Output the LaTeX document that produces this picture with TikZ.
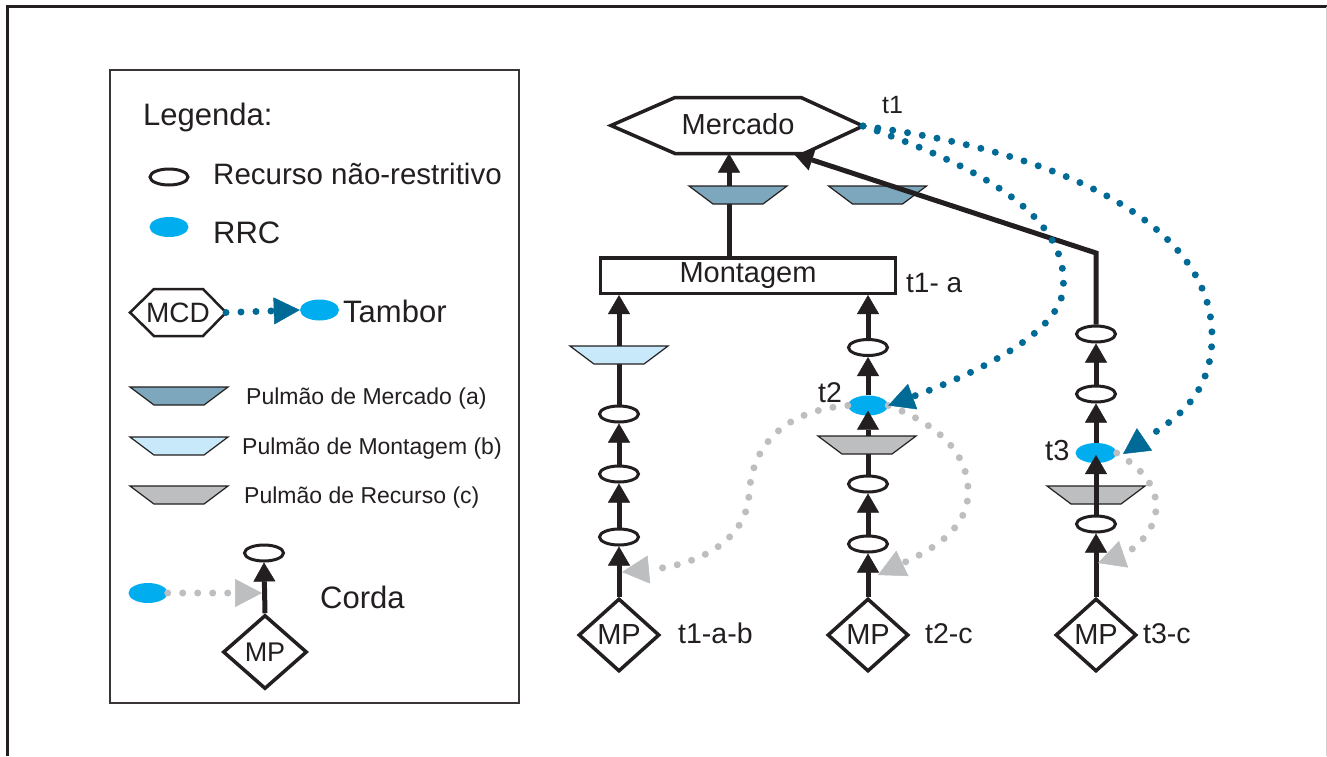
\documentclass[tikz,border=0pt]{standalone}
\usepackage{fontspec}
\setmainfont{Liberation Sans}
\usetikzlibrary{shapes.geometric,arrows.meta}
\newcommand\myfs[1]{\fontsize{#1}{#1}\selectfont}
\definecolor{ink}{HTML}{231F20}
\definecolor{tealC}{HTML}{006A96}
\definecolor{cyanC}{HTML}{00AEEF}
\definecolor{grayC}{HTML}{BCBEC0}
\definecolor{mktC}{HTML}{7DA7BC}
\definecolor{monC}{HTML}{C7E9F9}
\tikzset{pics/buffer/.style={code={\draw[line width=1.2pt, draw=ink, fill=#1] (-49,-9) -- (49,-9) -- (25,9) -- (-25,9) -- cycle;}}}
\begin{document}
\begin{tikzpicture}[x=1pt,y=-1pt,
  blk/.style={draw=ink, line width=5pt, -{Triangle[length=19pt,width=22pt,line width=0.5pt]}},
  tealdot/.style={draw=tealC, line width=7pt, line cap=round, dash pattern=on 0pt off 15pt, -{Triangle[length=26pt,width=27pt,line width=0.5pt]}},
  graydot/.style={draw=grayC, line width=7pt, line cap=round, dash pattern=on 0pt off 15pt, -{Triangle[length=27pt,width=28pt,line width=0.5pt]}},
  nr/.style={ellipse, draw=ink, line width=3pt, fill=white, minimum width=39pt, minimum height=16pt, inner sep=0pt},
  rrc/.style={ellipse, fill=cyanC, minimum width=40pt, minimum height=20pt, inner sep=0pt},
  mp/.style={diamond, draw=ink, line width=3.5pt, fill=white, minimum width=81pt, minimum height=73pt, inner sep=0pt, font=\myfs{29}, text=ink},
  txt/.style={anchor=base west, inner sep=0pt, text=ink},
  hexline/.style={draw=ink, line width=3.5pt, line join=miter},
]
\useasboundingbox (0,0) rectangle (1327,756);
\fill[white] (0,0) rectangle (1327,756);
% outer frame
\draw[ink, line width=3pt] (7.5,756) -- (7.5,6.5) -- (1327,6.5);
\draw[gray!35, line width=1pt] (1326,6.5) -- (1326,756);
% legend box
\draw[ink!90, line width=2pt] (110,70) rectangle (519,703);

% ---------- legend ----------
\node[txt, font=\myfs{31}] (legT) at (143,125) {Legenda:};
\node[nr, minimum width=38pt] (LnrE) at (169,177) {};
\node[txt, font=\myfs{29.5}] (LnrT) at (213,184) {Recurso não-restritivo};
\node[rrc, minimum width=39pt] (LrrcE) at (169,227) {};
\node[txt, font=\myfs{31}] (LrrcT) at (213,243) {RRC};
\draw[ink, line width=2.5pt] (130,312.5) -- (154,289) -- (203,289) -- (226,312.5) -- (203,336) -- (154,336) -- cycle;
\node[inner sep=0pt, anchor=base, font=\myfs{28}, text=ink] (mcd) at (178,322) {MCD};
\coordinate (mcdR) at (226,312.5);
\node[rrc, minimum width=39pt, minimum height=21pt] (Tam) at (319.5,310) {};
\node[txt, font=\myfs{31}] (TamT) at (343,322) {Tambor};
\pic at (179,396) {buffer=mktC};
\node[txt, font=\myfs{23}] (LbA) at (246,404) {Pulmão de Mercado (a)};
\pic at (179,446) {buffer=monC};
\node[txt, font=\myfs{23}] (LbB) at (242,454) {Pulmão de Montagem (b)};
\pic at (179,495) {buffer=grayC};
\node[txt, font=\myfs{23}] (LbC) at (244,503) {Pulmão de Recurso (c)};
\node[rrc, minimum width=39pt] (Lc) at (148,593) {};
\node[nr, minimum width=39pt] (LE) at (264,553) {};
\node[mp, minimum width=84pt, minimum height=74pt, font=\myfs{27}] (LD) at (265,652) {MP};
\coordinate (Lcd) at (262,593);
\node[txt, font=\myfs{31}] (CordT) at (320,608) {Corda};
\draw[tealdot] (mcdR) -- (Tam.west);
\draw[graydot] (Lc.east) -- (Lcd);
\draw[blk] (LD.north) -- (LE.south);

% ---------- main diagram nodes ----------
\draw[hexline] (611,125.5) -- (675,97.5) -- (801,97.5) -- (863,126) -- (804,153.5) -- (675,153.5) -- cycle;
\node[inner sep=0pt, anchor=base, font=\myfs{29}, text=ink] (merc) at (738,134) {Mercado};
\coordinate (mr) at (863,126);
\coordinate (mkin) at (729,153.5);
\coordinate (mk2) at (794,154);
\coordinate (bend) at (1096,253);
\node[txt, font=\myfs{25}] (t1) at (882,113) {t1};

\node[draw=ink, line width=3.5pt, fill=white, minimum width=295pt, minimum height=35.5pt, inner sep=0pt, font=\myfs{29}, text=ink] (mont) at (748,275.5) {Montagem};
\node[txt, font=\myfs{28}] (t1a) at (906,292) {t1- a};

% left chain
\node[nr] (E1c) at (619,414) {};
\node[nr] (E1b) at (619,474) {};
\node[nr] (E1a) at (619,537) {};
\node[mp] (D1) at (619,635) {MP};
\node[txt, font=\myfs{28.5}] (t1ab) at (678,643) {t1-a-b};
\coordinate (cord1) at (622,572);

% middle chain
\node[nr] (E2c) at (868,347.5) {};
\node[rrc] (RRC2) at (868,405.5) {};
\node[nr] (E2b) at (868,484) {};
\node[nr] (E2a) at (868,544) {};
\node[mp] (D2) at (868,635) {MP};
\node[txt, font=\myfs{28.5}] (t2c) at (925,643) {t2-c};
\node[txt, font=\myfs{28.5}] (t2) at (818,402) {t2};
\coordinate (cord2) at (878,575);

% right chain
\node[nr] (E3c) at (1096,334) {};
\node[nr] (E3b) at (1096,394) {};
\node[rrc, minimum width=41pt] (RRC3) at (1096,453) {};
\node[nr] (E3a) at (1096,524) {};
\node[mp] (D3) at (1096,635) {MP};
\node[txt, font=\myfs{28.5}] (t3c) at (1143,643) {t3-c};
\node[txt, font=\myfs{29}] (t3) at (1045,460) {t3};
\coordinate (t3in) at (1123,454);
\coordinate (cord3) at (1098,563);

% buffers below their lines
\pic at (877.5,195) {buffer=mktC};
\pic at (1096,495) {buffer=grayC};

% connectors
\draw[blk] (mont.north -| mkin) -- (mkin);
\draw[blk] (D1.north) -- (E1a.south);
\draw[blk] (E1a.north) -- (E1b.south);
\draw[blk] (E1b.north) -- (E1c.south);
\draw[blk] (E1c.north) -- (E1c |- mont.south);
\draw[blk] (D2.north) -- (E2a.south);
\draw[blk] (E2a.north) -- (E2b.south);
\draw[blk, shorten >=-5pt] (E2b.north) -- (RRC2.south);
\draw[blk] (RRC2.north) -- (E2c.south);
\draw[blk] (E2c.north) -- (E2c |- mont.south);
\draw[blk] (D3.north) -- (E3a.south);
\draw[blk, shorten >=2pt] (E3a.north) -- (RRC3.center);
\draw[blk] (RRC3.north) -- (E3b.south);
\draw[blk] (E3b.north) -- (E3c.south);
\draw[blk, line join=miter] (E3c.north) -- (bend) -- (mk2);

% buffers above their lines
\pic at (738,195) {buffer=mktC};
\pic at (619,355) {buffer=monC};
\pic at (867,445) {buffer=grayC};

% ropes (gray)
\draw[graydot] (RRC2.west) .. controls (790,410) and (752,440) .. (749,495) .. controls (746,540) and (700,565) .. (cord1);
\draw[graydot] (RRC2.east) .. controls (940,425) and (970,455) .. (968,495) .. controls (966,535) and (920,555) .. (cord2);
\draw[graydot] (RRC3.east) .. controls (1145,470) and (1158,490) .. (1156,510) .. controls (1154,535) and (1130,552) .. (cord3);

% drum (teal)
\draw[tealdot] (mr) .. controls (990,170) and (1070,220) .. (1063,290) .. controls (1058,340) and (950,383) .. (RRC2.east);
\draw[tealdot] (mr) .. controls (1050,150) and (1215,220) .. (1212,340) .. controls (1210,400) and (1170,422) .. (t3in);
\end{tikzpicture}
\end{document}
